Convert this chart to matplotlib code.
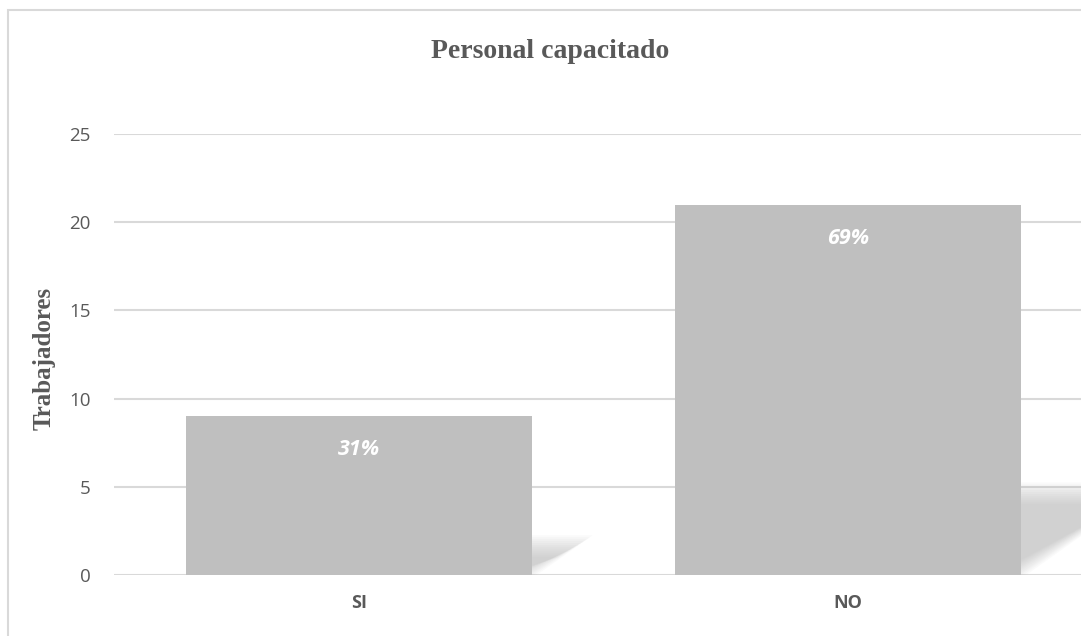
import matplotlib
matplotlib.use("Agg")
import matplotlib.pyplot as plt
from matplotlib.patches import Polygon, Rectangle

categorias = ["SI", "NO"]
trabajadores = [9, 21]
porcentajes = ["31%", "69%"]
yticks = [0, 5, 10, 15, 20, 25]

W, H = 1081, 636
fig = plt.figure(figsize=(W / 100, H / 100), dpi=100)
fig.patch.set_facecolor("white")

# marco del grafico (se sale por la derecha y por abajo)
fig.patches.append(Rectangle((8 / W, -0.1), 1.2, 1 - 10 / H + 0.1,
                             transform=fig.transFigure, fill=False,
                             edgecolor="#d9d9d9", linewidth=1.5))

ax = fig.add_axes([114 / W, 1 - 575 / H, (1093 - 114) / W, (575 - 134) / H])
ax.set_xlim(-0.5, 1.5)
ax.set_ylim(0, 25)

x = list(range(len(categorias)))
ancho = 0.707

# sombras difusas
for xi, v in zip(x, trabajadores):
    alto = 0.25 * v
    desp = 0.0127 * v
    izq = xi - ancho / 2
    der = xi + ancho / 2
    for k in range(12):
        e = k * 0.006
        ey = k * 0.11
        pts = [(izq + e, 0), (der + 0.01 - e, 0),
               (der + 0.01 + desp - e, alto - ey), (izq + desp + e, alto - ey)]
        ax.add_patch(Polygon(pts, closed=True, facecolor="#b0b0b0",
                             edgecolor="none", alpha=0.06, zorder=1))

ax.bar(x, trabajadores, width=ancho, color="#bfbfbf", zorder=2)

for xi, v, p in zip(x, trabajadores, porcentajes):
    ax.text(xi, v - 1.9, p, ha="center", va="center", color="white",
            fontsize=15.5, fontweight="bold", fontstyle="italic",
            family="Open Sans", zorder=3)

ax.set_yticks(yticks)
ax.set_xticks(x)
ax.set_xticklabels(categorias, fontweight="bold", family="Open Sans", fontsize=13)
for t in ax.get_yticklabels():
    t.set_family("Open Sans")
    t.set_fontsize(13.5)
ax.tick_params(axis="both", length=0, colors="#595959")
ax.tick_params(axis="y", pad=17)
ax.tick_params(axis="x", pad=14)
ax.grid(axis="y", color="#d9d9d9", linewidth=1.5, zorder=0)
ax.set_axisbelow(True)
for s in ax.spines.values():
    s.set_visible(False)

fig.text(44 / W, 1 - 358 / H, "Trabajadores", ha="center", va="center",
         rotation=90, family="Liberation Serif", fontweight="bold",
         fontsize=18, color="#595959")

fig.text(550 / W, 1 - 52 / H, "Personal capacitado", ha="center", va="center",
         family="Liberation Serif", fontweight="bold", fontsize=20,
         color="#595959")

fig.savefig("out.png", dpi=100)
